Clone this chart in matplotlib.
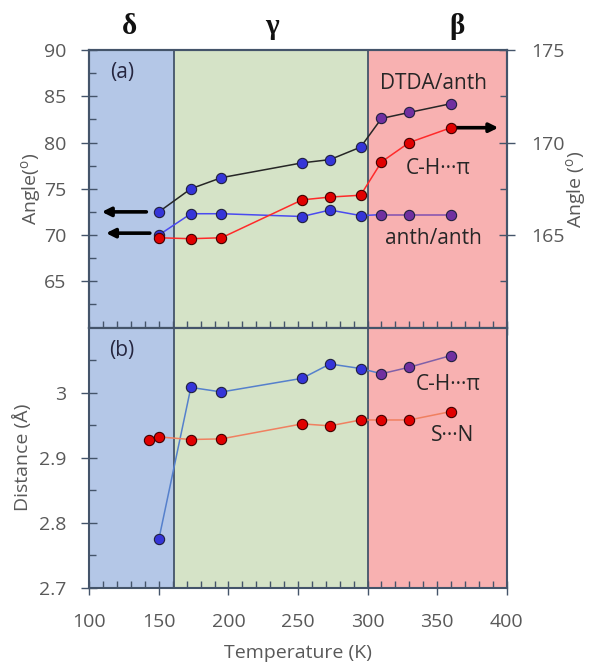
import matplotlib
matplotlib.use("Agg")
import matplotlib.pyplot as plt
from matplotlib.ticker import FixedLocator, MultipleLocator
import matplotlib.transforms as mtransforms

plt.rcParams['font.family'] = ['Open Sans', 'DejaVu Sans']
plt.rcParams['mathtext.fontset'] = 'custom'
plt.rcParams['mathtext.rm'] = 'Open Sans'

# ---- data ----
T = [150, 173, 195, 253, 273, 295, 310, 330, 360]
dtda_anth = [72.5, 75.0, 76.2, 77.8, 78.15, 79.5, 82.6, 83.25, 84.2]
anth_anth = [70.0, 72.3, 72.3, 72.0, 72.7, 72.1, 72.2, 72.2, 72.2]
ch_pi_angle = [164.85, 164.8, 164.85, 166.9, 167.05, 167.15, 168.95, 170.0, 170.8]
ch_pi_dist = [2.775, 3.008, 3.001, 3.022, 3.044, 3.037, 3.029, 3.039, 3.057]
T_sn = [143, 150, 173, 195, 253, 273, 295, 310, 330, 360]
sn_dist = [2.927, 2.932, 2.928, 2.929, 2.952, 2.949, 2.958, 2.958, 2.958, 2.971]

phase_bounds = [100, 161, 300, 400]
phase_names = ['δ', 'γ', 'β']
phase_label_x = [129, 231, 364]

# ---- style ----
C_BLUE_BG = '#b4c7e7'
C_GREEN_BG = '#d5e3c7'
C_RED_BG = '#f8b1b1'
C_FRAME = '#44546a'
C_TICK = '#595959'
C_BLUE = '#3535d8'
C_PURPLE = '#7030a0'
C_RED = '#e00000'
C_EDGE = '#202040'
MS = 7.4
TICK_FS = 14
LABEL_FS = 14
ANN_FS = 15

fig = plt.figure(figsize=(5.92, 6.64), dpi=100)
L, W = 89.3 / 592, (506.7 - 89.3) / 592
ax = fig.add_axes([L, 1 - 327.5 / 664, W, (327.5 - 50) / 664])
axb = fig.add_axes([L, 1 - 588 / 664, W, (588 - 327.5) / 664])

for a in (ax, axb):
    for (x0, x1), c in zip(zip(phase_bounds[:-1], phase_bounds[1:]), [C_BLUE_BG, C_GREEN_BG, C_RED_BG]):
        a.axvspan(x0, x1, color=c, zorder=0, lw=0)
    for xb in phase_bounds[1:-1]:
        a.axvline(xb, color=C_FRAME, lw=1.3, zorder=1)
    a.set_xlim(100, 400)
    for s in a.spines.values():
        s.set_color(C_FRAME)
        s.set_linewidth(1.5)
    a.xaxis.set_major_locator(MultipleLocator(50))
    a.xaxis.set_minor_locator(MultipleLocator(10))
    a.tick_params(axis='x', which='major', direction='inout', length=10, width=1, color=C_FRAME,
                  labelsize=TICK_FS, labelcolor=C_TICK, pad=13)
    a.tick_params(axis='x', which='minor', direction='in', length=5, width=1, color=C_FRAME)
    a.tick_params(axis='y', which='major', direction='inout', length=11, width=1, color=C_FRAME,
                  labelsize=TICK_FS, labelcolor=C_TICK, pad=11)
    a.tick_params(axis='y', which='minor', direction='in', length=5, width=1, color=C_FRAME)

ax.tick_params(axis='x', which='both', labelbottom=False)

# ---- top panel ----
ax.set_ylim(60, 90)
ax.yaxis.set_major_locator(FixedLocator([65, 70, 75, 80, 85, 90]))
ax.yaxis.set_minor_locator(FixedLocator([62.5, 67.5, 72.5, 77.5, 82.5, 87.5]))
ax.set_ylabel('Angle($^{\\rm o}$)', fontsize=LABEL_FS, color=C_TICK, labelpad=0)

mcols = [C_BLUE] * 6 + [C_PURPLE] * 3
ax.plot(T, dtda_anth, color='#262626', lw=1.1, zorder=3)
ax.plot(T[:7], anth_anth[:7], color='#4a4af0', lw=1.1, zorder=3)
ax.plot(T[6:], anth_anth[6:], color='#8050b0', lw=1.1, zorder=3)
for x, y1, y2, c in zip(T, dtda_anth, anth_anth, mcols):
    ax.plot(x, y1, 'o', ms=MS, mfc=c, mec=C_EDGE, mew=0.8, zorder=4)
    ax.plot(x, y2, 'o', ms=MS, mfc=c, mec=C_EDGE, mew=0.8, zorder=4)

ax2 = ax.twinx()
ax2.set_ylim(160, 175)
ax2.yaxis.set_major_locator(FixedLocator([165, 170, 175]))
ax2.yaxis.set_minor_locator(FixedLocator([162.5, 167.5, 172.5]))
for s in ax2.spines.values():
    s.set_color(C_FRAME)
    s.set_linewidth(1.5)
ax2.tick_params(axis='y', which='major', direction='inout', length=11, width=1, color=C_FRAME,
                labelsize=TICK_FS, labelcolor=C_TICK, pad=12)
ax2.tick_params(axis='y', which='minor', direction='in', length=5, width=1, color=C_FRAME)
ax2.set_ylabel('Angle ($^{\\rm o}$)', fontsize=LABEL_FS, color=C_TICK, labelpad=0)
ax2.plot(T, ch_pi_angle, color='#ff2a2a', lw=1.1, zorder=3)
ax2.plot(T, ch_pi_angle, 'o', ms=MS, mfc=C_RED, mec='#400000', mew=0.8, zorder=4)

# arrows
arr = dict(arrowstyle='-|>', lw=2.6, color='black', mutation_scale=13, shrinkA=0, shrinkB=0)
ax.annotate('', xy=(109, dtda_anth[0]), xytext=(141, dtda_anth[0]), arrowprops=arr, zorder=5)
ax.annotate('', xy=(112, 70.2), xytext=(143.5, 70.2), arrowprops=arr, zorder=5)
ax2.annotate('', xy=(394, ch_pi_angle[-1]), xytext=(T[-1], ch_pi_angle[-1]), arrowprops=arr, zorder=3)

ax.text(123.6, 87.6, '(a)', fontsize=ANN_FS, color='#262640', ha='center', va='center', zorder=6)
ax.text(347.6, 86.4, 'DTDA/anth', fontsize=ANN_FS, color='#262626', ha='center', va='center', zorder=6)
ax.text(350.5, 77.2, 'C-H···π', fontsize=ANN_FS, color='#262626', ha='center', va='center', zorder=6)
ax.text(347.6, 69.6, 'anth/anth', fontsize=ANN_FS, color='#262626', ha='center', va='center', zorder=6)

trans = mtransforms.blended_transform_factory(ax.transData, ax.transAxes)
for x, name in zip(phase_label_x, phase_names):
    ax.text(x, 1.083, name, transform=trans, fontsize=21, fontweight='bold',
            family='Liberation Serif', color='#111111', ha='center', va='center')

# ---- bottom panel ----
axb.set_ylim(2.7, 3.1)
axb.yaxis.set_major_locator(FixedLocator([2.7, 2.8, 2.9, 3.0]))
axb.set_yticklabels(['2.7', '2.8', '2.9', '3'])
axb.yaxis.set_minor_locator(FixedLocator([2.75, 2.85, 2.95, 3.05]))
axb.set_ylabel('Distance (Å)', fontsize=LABEL_FS, color=C_TICK, labelpad=5)
axb.set_xlabel('Temperature (K)', fontsize=LABEL_FS, color=C_TICK, labelpad=9)

axb.plot(T[:7], ch_pi_dist[:7], color='#5580cc', lw=1.1, zorder=3)
axb.plot(T[6:], ch_pi_dist[6:], color='#8060a8', lw=1.1, zorder=3)
axb.plot(T_sn, sn_dist, color='#f08060', lw=1.1, zorder=3)
for x, y, c in zip(T, ch_pi_dist, mcols):
    axb.plot(x, y, 'o', ms=MS, mfc=c, mec=C_EDGE, mew=0.8, zorder=4)
axb.plot(T_sn, sn_dist, 'o', ms=MS, mfc=C_RED, mec='#400000', mew=0.8, zorder=4)

axb.text(123.6, 3.065, '(b)', fontsize=ANN_FS, color='#262640', ha='center', va='center', zorder=6)
axb.text(357.8, 3.013, 'C-H···π', fontsize=ANN_FS, color='#262626', ha='center', va='center', zorder=6)
axb.text(361.3, 2.934, 'S···N', fontsize=ANN_FS, color='#262626', ha='center', va='center', zorder=6)

fig.savefig('out.png', dpi=100)
